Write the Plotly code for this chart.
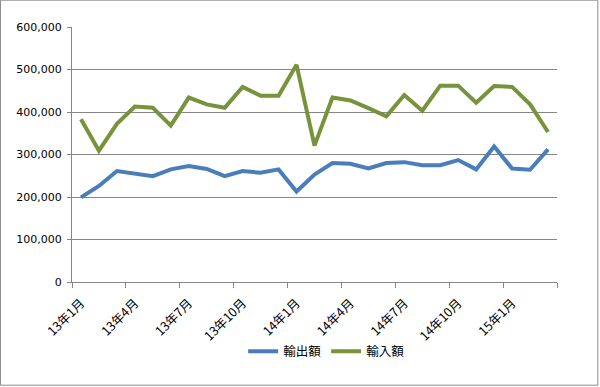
import plotly.graph_objects as go

months = [f"{y}年{m}月" for y, m in
          [(13, m) for m in range(1, 13)] + [(14, m) for m in range(1, 13)] + [(15, m) for m in range(1, 4)]]
exports = [199, 226, 261, 255, 249, 265, 273, 266, 249, 261, 257, 265, 213, 253,
           280, 278, 267, 280, 282, 275, 275, 287, 265, 319, 267, 264, 312]
imports = [383, 309, 372, 413, 410, 368, 434, 418, 410, 459, 438, 438, 511, 321,
           434, 427, 409, 390, 440, 403, 462, 462, 422, 461, 459, 418, 353]
exports = [v * 1000 for v in exports]
imports = [v * 1000 for v in imports]
series_names = ["輸出額", "輸入額"]
y_ticks = [0, 100000, 200000, 300000, 400000, 500000, 600000]

idx = list(range(len(months)))
label_idx = idx[::3]
label_text = [months[i] for i in label_idx]
bounds = [i - 0.5 for i in idx[::3]] + [len(months) - 0.5]

L, R, T, B = 72, 43.3, 27.3, 104.7
W, H = 600, 387
pw, ph = W - L - R, H - T - B

fig = go.Figure()
fig.add_trace(go.Scatter(x=idx, y=exports, mode="lines", name=series_names[0],
                         line=dict(color="#4A7EBB", width=4)))
fig.add_trace(go.Scatter(x=idx, y=imports, mode="lines", name=series_names[1],
                         line=dict(color="#77933C", width=4)))

grid = "#868686"
fig.update_layout(
    width=W, height=H,
    margin=dict(l=L, r=R, t=T, b=B, pad=0),
    paper_bgcolor="white", plot_bgcolor="white",
    font=dict(family="DejaVu Sans, Noto Sans CJK JP", size=11, color="black"),
    showlegend=True,
    legend=dict(orientation="h", x=(326 - L) / pw, xanchor="center", y=(282.3 - 352) / ph,
                yanchor="middle", font=dict(family="Noto Sans CJK JP", size=12.5),
                itemwidth=30, tracegroupgap=0),
    xaxis=dict(range=[-0.5, len(months) - 0.5], tickmode="array", tickvals=label_idx,
               ticktext=label_text, tickangle=-45, ticks="", showgrid=False,
               showline=True, linecolor=grid, linewidth=1, zeroline=False,
               ticklabelstandoff=8,
               tickfont=dict(family="Noto Sans CJK JP", size=12.5),
               minor=dict(tickmode="array", tickvals=bounds, ticks="outside", ticklen=5,
                          tickcolor=grid, tickwidth=1, showgrid=False)),
    yaxis=dict(range=[0, 600000], tickmode="array", tickvals=y_ticks,
               ticktext=[f"{v:,}" for v in y_ticks], ticks="outside", ticklen=4,
               tickcolor=grid, showgrid=True, gridcolor=grid, gridwidth=1,
               showline=True, linecolor=grid, linewidth=1, zeroline=False,
               ticklabelstandoff=3,
               tickfont=dict(family="DejaVu Sans", size=11)),
    shapes=[dict(type="rect", xref="paper", yref="paper",
                 x0=(0.5 - L) / pw, x1=(597.5 - L) / pw,
                 y0=(282.3 - 385.5) / ph, y1=(282.3 - 0.5) / ph,
                 line=dict(color="#8C8C8C", width=1), layer="below")],
)
fig.write_html("out.html", config={"displayModeBar": False},
               post_script="document.body.style.margin='0';document.body.style.overflow='hidden';")
